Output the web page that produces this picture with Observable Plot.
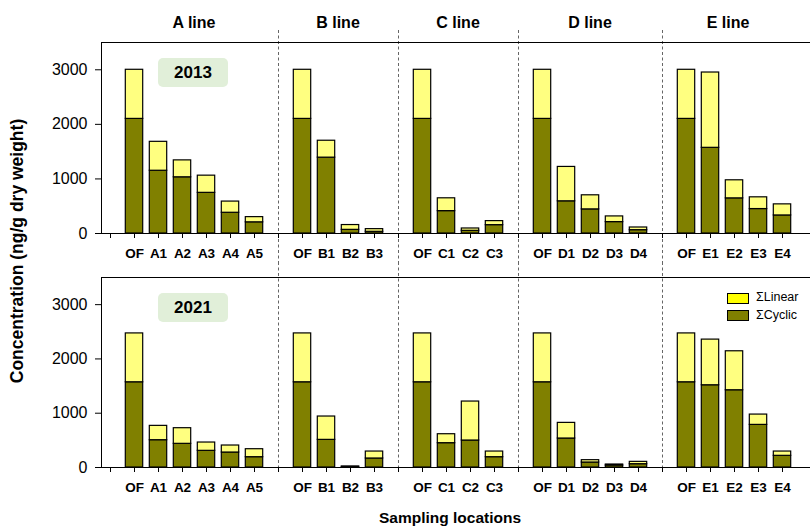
<!DOCTYPE html>
<html>
<head>
<meta charset="utf-8">
<script src="https://cdn.jsdelivr.net/npm/d3@7"></script>
<script src="https://cdn.jsdelivr.net/npm/@observablehq/plot@0.6"></script>
<style>
  html, body { margin: 0; padding: 0; background: #fff; overflow: hidden; }
  #wrap { position: relative; width: 810px; height: 527px; overflow: hidden;
          font-family: "Liberation Sans", Arial, Helvetica, sans-serif; color: #000; }
  #wrap svg { display: block; }
  .abs { position: absolute; white-space: nowrap; line-height: 1; }
  .gtitle { font-weight: bold; font-size: 16px; transform: translate(-50%, -50%); }
  .ytitle { font-weight: bold; font-size: 17.5px; transform: translate(-50%, -50%) rotate(-90deg); }
  .xtitle { font-weight: bold; font-size: 15.5px; transform: translate(-50%, -50%); }
  .badge { background: #e1efd9; border-radius: 5px; font-weight: bold; font-size: 17px;
           display: flex; align-items: center; justify-content: center; }
  .sw { border: 1px solid #000; box-sizing: border-box; }
  .lt { font-size: 12.5px; transform: translateY(-50%); }
</style>
</head>
<body>
<div id="wrap"></div>
<script>
// ---------- data ----------
const groups = ["A", "B", "C", "D", "E"];
const groupTitles = ["A line", "B line", "C line", "D line", "E line"];
const sitesA = ["OF", "A1", "A2", "A3", "A4", "A5"];
const sitesB = ["OF", "B1", "B2", "B3"];
const sitesC = ["OF", "C1", "C2", "C3"];
const sitesD = ["OF", "D1", "D2", "D3", "D4"];
const sitesE = ["OF", "E1", "E2", "E3", "E4"];
const years = ["2013", "2021"];
const seriesNames = ["ΣLinear", "ΣCyclic"];
const yTicks = [0, 1000, 2000, 3000];

// values in site order A(6) B(4) C(4) D(5) E(5)
const cyclic2013 = [2100, 1150, 1030, 745, 380, 205,  2100, 1390, 67, 31,  2100, 410, 49, 153,  2100, 590, 442, 209, 61,  2100, 1570, 644, 448, 331];
const linear2013 = [900, 530, 310, 315, 205, 95,      900, 310, 88, 49,    900, 235, 43, 74,    900, 630, 258, 104, 49,   900, 1380, 331, 215, 203];
const cyclic2021 = [1570, 503, 436, 307, 276, 190,  1570, 509, 12, 166,  1570, 448, 497, 190,  1570, 534, 92, 37, 61,  1570, 1515, 1423, 785, 215];
const linear2021 = [900, 264, 288, 153, 129, 147,   900, 430, 6, 128,    900, 165, 718, 104,   900, 288, 43, 18, 43,   900, 841, 718, 190, 79];

// ---------- layout ----------
const FONT = '"Liberation Sans", Arial, Helvetica, sans-serif';
const siteLists = [sitesA, sitesB, sitesC, sitesD, sitesE];
const slots = [];
const barKeys = [];
siteLists.forEach((list, g) => {
  slots.push("|" + g);
  list.forEach(s => { const k = groups[g] + ":" + s; slots.push(k); barKeys.push(k); });
});
const spacers = slots.filter(s => s.startsWith("|"));

function panel(cyc, lin, h, mt, mb, insTop, insBot) {
  const rows = [];
  barKeys.forEach((k, i) => {
    rows.push({key: k, series: "ΣCyclic", value: cyc[i]});
    rows.push({key: k, series: "ΣLinear", value: lin[i]});
  });
  return Plot.plot({
    width: 810, height: h,
    marginLeft: 101, marginRight: 0, marginTop: mt, marginBottom: mb,
    style: {fontFamily: FONT, fontSize: "13px", color: "#000", background: "transparent"},
    x: {type: "band", domain: slots, range: [88, 803.33], padding: 0, axis: null},
    y: {domain: [0, 3500], axis: null},
    color: {domain: ["ΣCyclic", "ΣLinear"], range: ["#808000", "#ffff80"]},
    marks: [
      Plot.ruleX(spacers.slice(1), {stroke: "#555", strokeDasharray: "3,2.5", strokeWidth: 0.9,
                                    insetTop: insTop, insetBottom: insBot}),
      Plot.barY(rows, Plot.stackY({x: "key", y: "value", fill: "series", stroke: "#000",
                                   strokeWidth: 1.2, insetLeft: 3.3, insetRight: 3.3})),
      Plot.frame({anchor: "left", stroke: "#000"}),
      Plot.frame({anchor: "top", stroke: "#000"}),
      Plot.ruleY([0], {stroke: "#000"}),
      Plot.axisY({ticks: yTicks, tickSize: 6, tickPadding: 8, tickFormat: d3.format("d"),
                  label: null, fontSize: 16}),
      Plot.axisX({ticks: slots, tickSize: 5, tickPadding: 10,
                  tickFormat: k => k.startsWith("|") ? "" : k.split(":")[1],
                  label: null, fontWeight: "bold", fontSize: 13.5})
    ]
  });
}

const wrap = document.getElementById("wrap");
const chart2013 = panel(cyclic2013, linear2013, 262, 42, 29, -12, -29);
const chart2021 = panel(cyclic2021, linear2021, 265, 15, 60, -15, 0);
wrap.appendChild(chart2013);
wrap.appendChild(chart2021);

function add(cls, text, css) {
  const d = document.createElement("div");
  d.className = "abs " + cls;
  d.textContent = text;
  Object.assign(d.style, css);
  wrap.appendChild(d);
  return d;
}

// group titles from the x scale
const xs = chart2013.scale("x");
const center = k => xs.apply(k) + xs.bandwidth / 2;
const step = center(slots[1]) - center(slots[0]);
groups.forEach((g, i) => {
  const left = center("|" + i);
  const right = i < groups.length - 1 ? center("|" + (i + 1))
                                      : center(barKeys[barKeys.length - 1]) + step / 2;
  add("gtitle", groupTitles[i], {left: ((left + right) / 2) + "px", top: "23px"});
});

// axis titles
add("ytitle", "Concentration (ng/g dry weight)", {left: "18px", top: "251px"});
add("xtitle", "Sampling locations", {left: "450px", top: "518px"});

// year badges
add("badge", years[0], {left: "158px", top: "58px", width: "70px", height: "29px"});
add("badge", years[1], {left: "158px", top: "293px", width: "70px", height: "29px"});

// legend
add("sw", "", {left: "727px", top: "293px", width: "22px", height: "11px", background: "#ffff00"});
add("sw", "", {left: "727px", top: "310px", width: "22px", height: "11px", background: "#808000"});
add("lt", seriesNames[0], {left: "756px", top: "297px"});
add("lt", seriesNames[1], {left: "756px", top: "315px"});
</script>
</body>
</html>
